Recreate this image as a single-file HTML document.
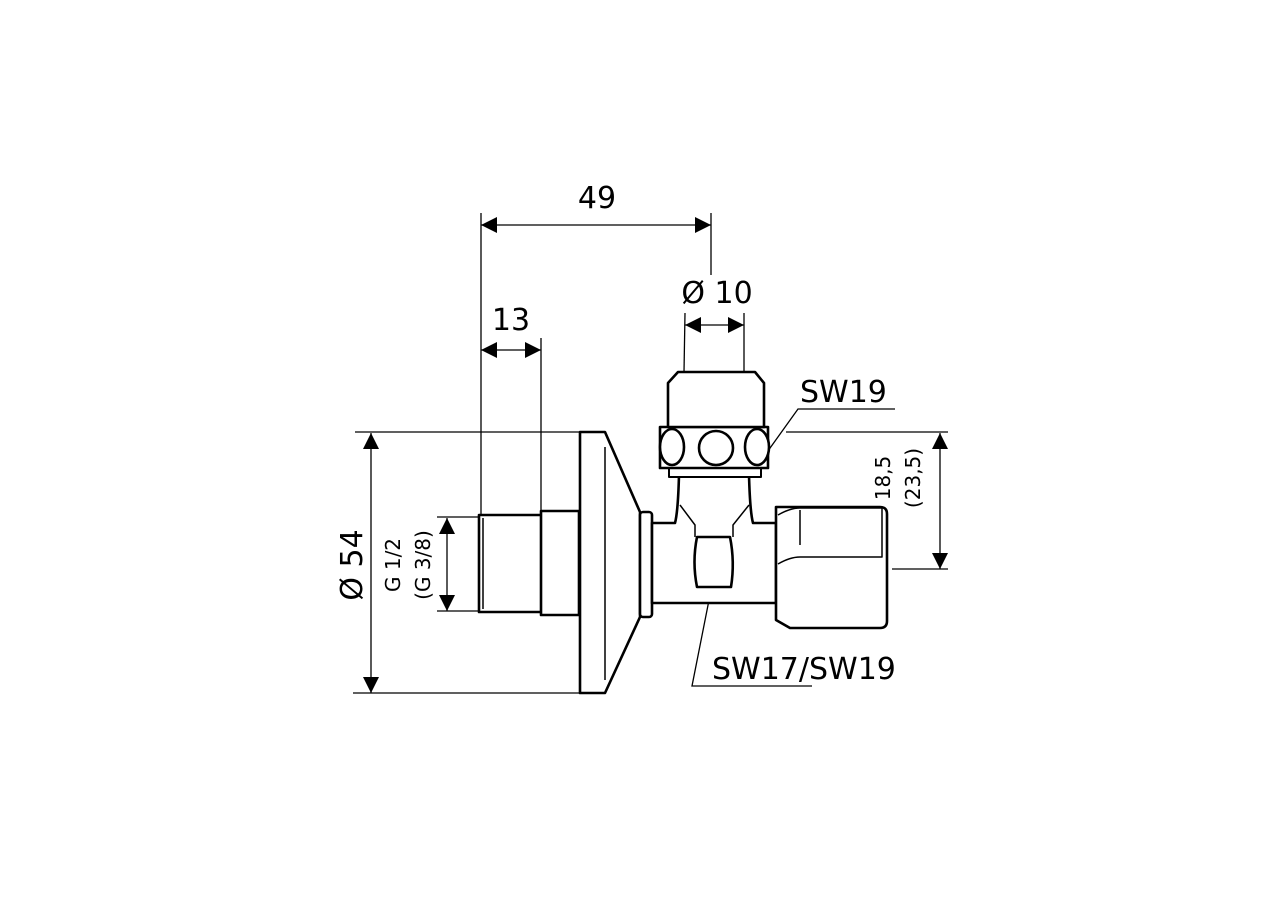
<!DOCTYPE html>
<html><head><meta charset="utf-8"><style>html,body{margin:0;padding:0;background:#fff}svg{display:block}</style></head>
<body>
<svg width="1280" height="900" viewBox="0 0 1280 900" xmlns="http://www.w3.org/2000/svg" font-family="'DejaVu Sans','Liberation Sans',sans-serif">
<defs>
<marker id="a" viewBox="0 0 10 10" refX="10" refY="5" markerWidth="16" markerHeight="16" markerUnits="userSpaceOnUse" orient="auto-start-reverse"><path d="M0,0 L10,5 L0,10 z" fill="#000"/></marker>
</defs>
<g stroke="#000" stroke-width="1.3" fill="none">
<!-- dimension lines -->
<line x1="481" y1="225" x2="711" y2="225" marker-start="url(#a)" marker-end="url(#a)"/>
<line x1="481" y1="213" x2="481" y2="515"/>
<line x1="711" y1="213" x2="711" y2="275"/>
<line x1="481" y1="350" x2="541" y2="350" marker-start="url(#a)" marker-end="url(#a)"/>
<line x1="541" y1="338" x2="541" y2="510"/>
<line x1="685" y1="325" x2="744" y2="325" marker-start="url(#a)" marker-end="url(#a)"/>
<line x1="685" y1="313" x2="684" y2="372"/>
<line x1="744" y1="313" x2="744" y2="372"/>
<line x1="371" y1="433" x2="371" y2="693" marker-start="url(#a)" marker-end="url(#a)"/>
<line x1="355" y1="432" x2="580" y2="432"/>
<line x1="353" y1="693" x2="580" y2="693"/>
<line x1="447" y1="518" x2="447" y2="611" marker-start="url(#a)" marker-end="url(#a)"/>
<line x1="437" y1="517" x2="480" y2="517"/>
<line x1="437" y1="611" x2="480" y2="611"/>
<line x1="940" y1="433" x2="940" y2="569" marker-start="url(#a)" marker-end="url(#a)"/>
<line x1="786" y1="432" x2="948" y2="432"/>
<line x1="892" y1="569" x2="948" y2="569"/>
<!-- leaders -->
<polyline points="760,462 798,409 895,409"/>
<polyline points="712,585 692,686 812,686"/>
</g>
<g stroke="#000" stroke-width="2.6" fill="#fff" stroke-linejoin="round">
<!-- male thread -->
<rect x="479" y="515" width="64" height="97"/>
<line x1="483" y1="518" x2="483" y2="609" stroke-width="1.5"/>
<rect x="541" y="511" width="38" height="104"/>
<!-- flange + cone -->
<path d="M580,432 L605,432 L640,512 L640,617 L605,693 L580,693 Z"/>
<line x1="605" y1="447" x2="605" y2="680" stroke-width="1.5"/>
<rect x="640" y="512" width="12" height="105" rx="3"/>
<!-- body -->
<path d="M652,523 L675,523 Q678,512 679,475 L749,475 Q750,512 753,523 L776,523 L776,603 L652,603 Z"/>
<path d="M680,505 L695,525 L695,537 M749,505 L733,525 L733,537" stroke-width="1.5" fill="none"/>
<path d="M697,537 L730,537 Q735,562 731,587 L697,587 Q692,562 697,537 Z"/>
<!-- right nut -->
<path d="M776,507 L880,507 Q887,507 887,514 L887,621 Q887,628 880,628 L790,628 L776,620 Z"/>
<path d="M778,515 Q790,508 800,508 L882,508 L882,557 L800,557 Q790,557 778,564" stroke-width="1.5" fill="none"/>
<line x1="800" y1="510" x2="800" y2="545" stroke-width="1.5"/>
<!-- top bonnet -->
<rect x="669" y="467" width="92" height="10" stroke-width="2"/>
<path d="M660,427 L768,427 L768,468 L660,468 Z"/>
<ellipse cx="672" cy="447" rx="12" ry="18"/>
<circle cx="716" cy="448" r="17"/>
<ellipse cx="757" cy="447" rx="12" ry="18"/>
<path d="M668,427 L668,383 L678,372 L755,372 L764,383 L764,427 Z"/>
</g>
<g fill="#000" font-size="30">
<text x="597" y="208" text-anchor="middle">49</text>
<text x="511" y="330" text-anchor="middle">13</text>
<text x="717" y="303" text-anchor="middle">Ø 10</text>
<text x="800" y="402">SW19</text>
<text x="712" y="679">SW17/SW19</text>
<text transform="translate(362,565) rotate(-90)" text-anchor="middle">Ø 54</text>
</g>
<g fill="#000" font-size="20">
<text transform="translate(400,565) rotate(-90)" text-anchor="middle">G 1/2</text>
<text transform="translate(430,565) rotate(-90)" text-anchor="middle">(G 3/8)</text>
<text transform="translate(890,478) rotate(-90)" text-anchor="middle">18,5</text>
<text transform="translate(920,478) rotate(-90)" text-anchor="middle">(23,5)</text>
</g>
</svg>
</body></html>
